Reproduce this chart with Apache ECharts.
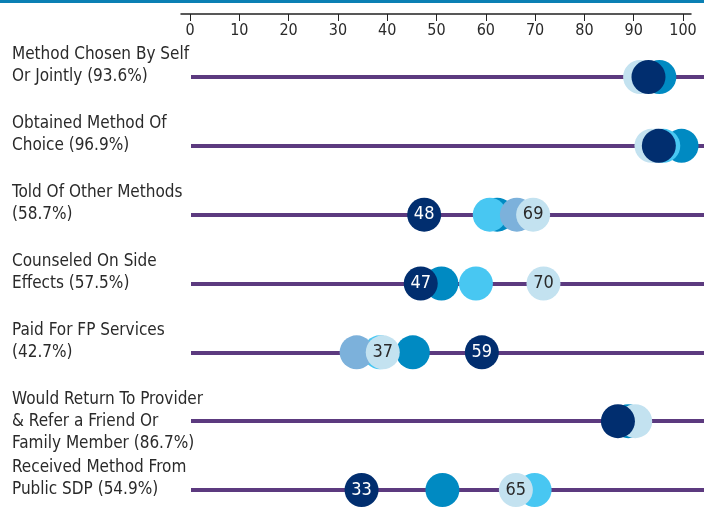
<!DOCTYPE html>
<html>
<head>
<meta charset="utf-8">
<script src="https://cdn.jsdelivr.net/npm/echarts@6/dist/echarts.min.js"></script>
<style>
  html, body { margin: 0; padding: 0; background: #fff; }
  #chart { width: 704px; height: 512px; }
</style>
</head>
<body>
<div id="chart"></div>
<script>
// row labels (top to bottom)
var categories = [
  'Method Chosen By Self\nOr Jointly (93.6%)',
  'Obtained Method Of\nChoice (96.9%)',
  'Told Of Other Methods\n(58.7%)',
  'Counseled On Side\nEffects (57.5%)',
  'Paid For FP Services\n(42.7%)',
  'Would Return To Provider\n& Refer a Friend Or\nFamily Member (86.7%)',
  'Received Method From\nPublic SDP (54.9%)'
];
var xTicks = [0, 10, 20, 30, 40, 50, 60, 70, 80, 90, 100];

// dot values per series, one per row (null = not visible)
var tealVals   = [95.2, 99.7, 62.3, 51.0, 45.2, 88.9, 51.2];
var skyVals    = [null, 96.0, 60.8, 58.0, 38.5, null, 69.9];
var mediumVals = [null, 94.6, 66.3, null, 33.8, null, null];
var lightVals  = [91.3, 93.6, 69.6, 71.7, 39.1, 90.3, 66.1];
var navyVals   = [93.0, 95.1, 47.5, 46.8, 59.2, 86.8, 34.8];

// numbers printed on dots
var navyLabels  = [null, null, '48', '47', '59', null, '33'];
var lightLabels = [null, null, '69', '70', '37', null, '65'];

var FONT = '"Liberation Sans Narrow", "DejaVu Sans Condensed", sans-serif';
var PURPLE = '#5c3a7f';

var chart = echarts.init(document.getElementById('chart'));

// two-line labels sit with their last line on the row line
function rowLabel(value, idx) {
  var lines = value.split('\n').length;
  return lines === 2 ? value + '\n' : value;
}

function dotSeries(name, vals, color, z, labels, labelColor) {
  return {
    name: name,
    type: 'scatter',
    xAxisIndex: 0,
    yAxisIndex: 0,
    symbolSize: 34,
    z: z,
    itemStyle: { color: color, opacity: 1 },
    emphasis: { disabled: true },
    label: {
      show: !!labels,
      position: 'inside',
      fontFamily: FONT,
      fontSize: 18,
      color: labelColor,
      formatter: function (p) { return labels && labels[p.dataIndex] ? labels[p.dataIndex] : ''; }
    },
    data: vals.map(function (v, i) { return v == null ? null : [v, i]; })
  };
}

var option = {
  animation: false,
  graphic: [
    { type: 'rect', left: 0, top: 0, shape: { width: 704, height: 3 }, style: { fill: '#0b80b4' } }
  ],
  grid: [
    { left: 190, right: 21, top: 77, bottom: 22, outerBoundsMode: 'none', containLabel: false },
    { left: 181, right: 13, top: 77, bottom: 22, outerBoundsMode: 'none', containLabel: false },
    { left: 191, right: 0, top: 77, bottom: 22, outerBoundsMode: 'none', containLabel: false }
  ],
  xAxis: [
    {
      gridIndex: 0, type: 'value', position: 'top', offset: 63,
      min: 0, max: 100, interval: 10,
      axisLine: { show: false },
      axisTick: { show: true, inside: true, length: 7, lineStyle: { color: '#222', width: 1 } },
      axisLabel: {
        inside: true, margin: 9, fontFamily: FONT, fontSize: 16, color: '#2a2a2a',
        formatter: function (v) { return xTicks.indexOf(v) >= 0 ? String(v) : ''; }
      },
      splitLine: { show: false }
    },
    {
      gridIndex: 1, type: 'value', position: 'top', offset: 63, min: 0, max: 100,
      axisLine: { show: true, lineStyle: { color: '#222', width: 1.5 } },
      axisTick: { show: false }, axisLabel: { show: false }, splitLine: { show: false }
    },
    {
      gridIndex: 2, type: 'value', show: false, min: 0, max: 100
    }
  ],
  yAxis: [
    {
      gridIndex: 0, type: 'category', inverse: true, boundaryGap: false, data: categories,
      axisLine: { show: false }, axisTick: { show: false },
      axisLabel: {
        interval: 0, align: 'left', verticalAlign: 'middle', margin: 178,
        fontFamily: FONT, fontSize: 17, lineHeight: 22, color: '#2a2a2a',
        formatter: rowLabel
      }
    },
    {
      gridIndex: 1, type: 'category', inverse: true, boundaryGap: false, data: categories, show: false
    },
    {
      gridIndex: 2, type: 'category', inverse: true, boundaryGap: false, data: categories,
      axisLine: { show: false }, axisTick: { show: false }, axisLabel: { show: false },
      splitLine: { show: true, interval: 0, lineStyle: { color: PURPLE, width: 4 } }
    }
  ],
  series: [
    dotSeries('teal', tealVals, '#008ac2', 2),
    dotSeries('sky', skyVals, '#48c7f2', 3),
    dotSeries('medium', mediumVals, '#7cb1db', 4),
    dotSeries('light', lightVals, '#c3e2f0', 5, lightLabels, '#2a2a2a'),
    dotSeries('navy', navyVals, '#012e6f', 6, navyLabels, '#ffffff')
  ]
};

chart.setOption(option);
</script>
</body>
</html>
